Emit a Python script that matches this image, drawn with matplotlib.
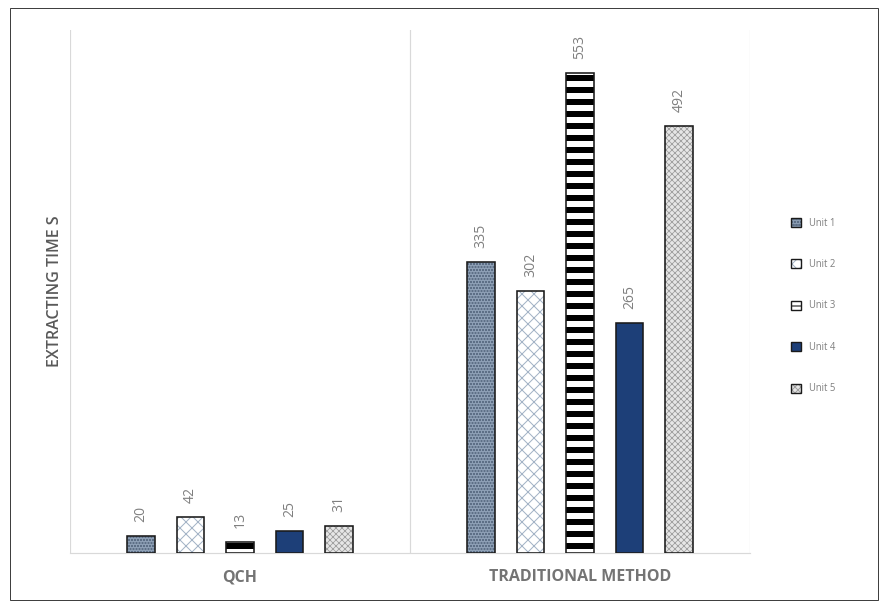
import matplotlib
matplotlib.use("Agg")
import matplotlib.pyplot as plt
from matplotlib.patches import Patch, Rectangle
from matplotlib.legend_handler import HandlerTuple
import numpy as np

plt.rcParams['font.family'] = ['Open Sans', 'DejaVu Sans']

categories = ["QCH", "TRADITIONAL METHOD"]
units = ["Unit 1", "Unit 2", "Unit 3", "Unit 4", "Unit 5"]
values = {
    "Unit 1": [20, 335],
    "Unit 2": [42, 302],
    "Unit 3": [13, 553],
    "Unit 4": [25, 265],
    "Unit 5": [31, 492],
}

# fill / hatch styling per unit
styles = {
    "Unit 1": dict(face="#8d9fb5", hatch="oooo", hcolor="#5d6f86", hlw=0.6),
    "Unit 2": dict(face="#ffffff", hatch="xx", hcolor="#a3b3c6", hlw=1.0),
    "Unit 3": dict(face="#ffffff", hatch="-", hcolor="#000000", hlw=6.0),
    "Unit 4": dict(face="#1d3f78", hatch=None, hcolor="#1d3f78", hlw=1.0),
    "Unit 5": dict(face="#e6e6e6", hatch="xxxx", hcolor="#a0a0a0", hlw=0.8),
}

DPI = 72
fig = plt.figure(figsize=(885 / DPI, 608 / DPI), dpi=DPI)
ax = fig.add_axes([70 / 885, 1 - 553 / 608, 680 / 885, 523 / 608])

x = np.arange(len(categories))
spacing = 0.1455
width = 0.08
label_color = "#7f7f7f"

for i, u in enumerate(units):
    st = styles[u]
    pos = x + (i - 2) * spacing
    with plt.rc_context({'hatch.linewidth': st["hlw"], 'hatch.color': st["hcolor"]}):
        ax.bar(pos, values[u], width, color=st["face"], hatch=st["hatch"],
               edgecolor=st["hcolor"], linewidth=0, zorder=2)
    ax.bar(pos, values[u], width, facecolor="none", edgecolor="#1a1a1a",
           linewidth=1.6, zorder=3)
    for xp, v in zip(pos, values[u]):
        ax.annotate(str(v), (xp, v), xytext=(0, 14), textcoords="offset points",
                    rotation=90, ha="center", va="bottom", fontsize=14,
                    color=label_color)

ax.set_xlim(-0.5, 1.5)
ax.set_ylim(0, 602)
ax.set_yticks([])
ax.set_xticks(x)
ax.set_xticklabels(categories, fontsize=16, fontweight="bold", color="#747474")
ax.tick_params(axis="x", length=0, pad=16)

for s in ["top", "right", "left"]:
    ax.spines[s].set_visible(False)
ax.spines["bottom"].set_color("#d9d9d9")
ax.spines["bottom"].set_linewidth(1.2)
for b in [-0.5, 0.5, 1.5]:
    ax.axvline(b, color="#d9d9d9", linewidth=1.2, zorder=1)

ax.set_ylabel("EXTRACTING TIME S", fontsize=16, fontweight="semibold", color="#595959")
ax.yaxis.set_label_coords(-7 / 680, 0.5)

# legend swatches: hatched fill underneath, dark outline on top
handles = []
for u in units:
    st = styles[u]
    with plt.rc_context({'hatch.linewidth': min(st["hlw"], 2.0)}):
        fill = Patch(facecolor=st["face"], hatch=st["hatch"],
                     edgecolor=st["hcolor"], linewidth=0)
    outline = Patch(facecolor="none", edgecolor="#1a1a1a", linewidth=1.4)
    handles.append((fill, outline))
leg = fig.legend(handles=handles, labels=units, loc="center left",
                 bbox_to_anchor=(782 / 885, 1 - 306 / 608),
                 handler_map={tuple: HandlerTuple(ndivide=1, pad=0)},
                 frameon=False, fontsize=9.5, labelcolor="#7f7f7f",
                 handlelength=1.1, handleheight=1.1, labelspacing=3.2,
                 handletextpad=0.8)

fig.patches.append(Rectangle((10 / 885, 8 / 608), 868 / 885, 592 / 608,
                             transform=fig.transFigure, fill=False,
                             edgecolor="#404040", linewidth=1.0))

fig.savefig("out.png", dpi=DPI)
